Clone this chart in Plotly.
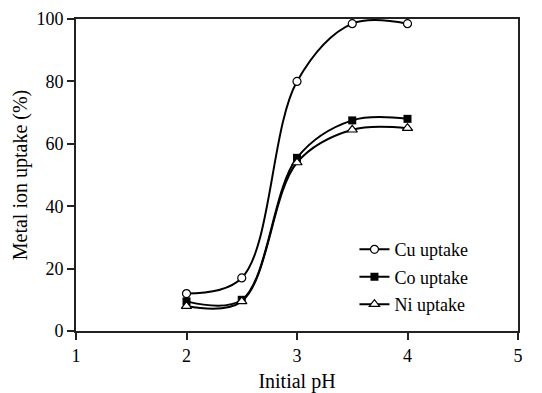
import plotly.graph_objects as go

ph = [2, 2.5, 3, 3.5, 4]
cu_uptake = [12, 17, 80, 98.5, 98.5]
co_uptake = [9.5, 10, 55.5, 67.5, 68]
ni_uptake = [8, 9.5, 54, 64.5, 65]

SERIF = "Times New Roman, Liberation Serif, DejaVu Serif, serif"

series = [
    ("Cu uptake", cu_uptake, dict(symbol="circle", size=8, color="white", line=dict(width=1.2, color="black"))),
    ("Co uptake", co_uptake, dict(symbol="square", size=8, color="black", line=dict(width=0))),
    ("Ni uptake", ni_uptake, dict(symbol="triangle-up", size=9, color="white", line=dict(width=1.2, color="black"))),
]

fig = go.Figure()
for name, vals, mk in series:
    fig.add_trace(go.Scatter(
        x=ph, y=vals, name=name, legendgroup=name, mode="lines+markers",
        line=dict(color="black", width=2, shape="spline", smoothing=1.0),
        marker=mk,
    ))

axis_common = dict(
    showline=True, linecolor="#222", linewidth=2, mirror=True,
    ticks="outside", ticklen=7, tickcolor="#222", tickwidth=1.5,
    showgrid=False, zeroline=False, automargin=False,
    tickfont=dict(family=SERIF, size=18, color="black"),
)

fig.update_layout(
    width=542, height=393,
    margin=dict(l=76, r=24, t=19, b=62, autoexpand=False),
    paper_bgcolor="white", plot_bgcolor="white",
    font=dict(family=SERIF, color="black"),
    xaxis=dict(range=[1, 5], tickvals=[1, 2, 3, 4, 5],
               title=dict(text="Initial pH", font=dict(size=20, family=SERIF), standoff=18),
               **axis_common),
    yaxis=dict(range=[0, 100], tickvals=[0, 20, 40, 60, 80, 100],
               title=dict(text="Metal ion uptake (%)", font=dict(size=20, family=SERIF), standoff=3),
               **axis_common),
    legend=dict(x=0.63, y=0.32, xanchor="left", yanchor="top",
                bgcolor="rgba(0,0,0,0)", font=dict(size=18, family=SERIF),
                tracegroupgap=1, itemwidth=30),
    showlegend=True,
)

fig.write_html("out.html", config={"displayModeBar": False},
               post_script="document.body.style.margin='0';")
